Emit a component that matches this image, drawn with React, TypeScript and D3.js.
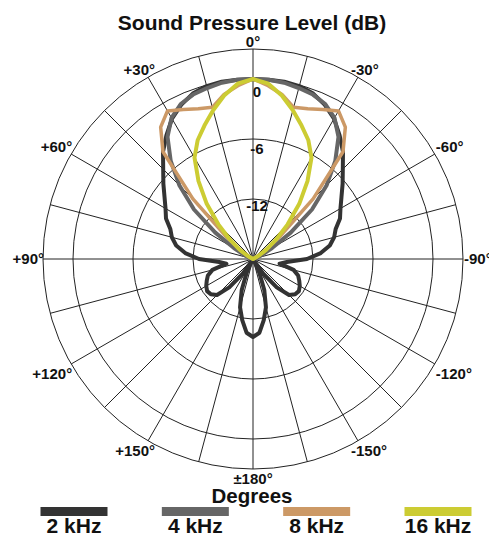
import React from "react";
import * as d3 from "d3";

// ---- data (dB relative to on-axis), one side 0°..180° in 5° steps, mirrored ----
const angles = d3.range(0, 181, 5);

const spl2k = [
  0, 0, 0, -0.1, -0.4, -1.0, -1.8, -2.9, -4.0, -5.3, -6.3, -7.2, -7.9, -8.4, -9.2, -9.6,
  -10.2, -11.2, -12.6, -14.6, -15.3, -13.8, -13.2, -12.9, -12.6, -12.4, -12.5, -12.9,
  -14.3, -16.2, -17.8, -16.5, -14.7, -13.0, -11.8, -10.6, -10.2,
];
const spl4k = [
  0, 0, -0.1, -0.3, -0.5, -0.9, -1.7, -3.1, -5.2, -7.6, -10.3, -13.4, -15.8, -17.0, -17.6,
  -18, -18, -18, -18, -18, -18, -18, -18, -18, -18, -18, -18, -18, -18, -18, -18, -18,
  -18, -18, -18, -18, -18,
];
const spl8k = [
  0, -0.6, -1.3, -2.3, -2.0, -1.5, -0.9, -1.9, -4.0, -9.5, -14.5, -16.5, -17.5, -18, -18,
  -18, -18, -18, -18, -18, -18, -18, -18, -18, -18, -18, -18, -18, -18, -18, -18, -18,
  -18, -18, -18, -18, -18,
];
const spl16k = [
  0, -0.4, -1.4, -2.6, -3.8, -4.9, -6.3, -8.5, -10.8, -13.1, -15.0, -16.4, -17.4, -18, -18,
  -18, -18, -18, -18, -18, -18, -18, -18, -18, -18, -18, -18, -18, -18, -18, -18, -18,
  -18, -18, -18, -18, -18,
];

const seriesNames = ["2 kHz", "4 kHz", "8 kHz", "16 kHz"];
const seriesValues = [spl2k, spl4k, spl8k, spl16k];
const seriesColors = ["#333333", "#666666", "#cc9966", "#cccc33"];
const seriesWidths = [4, 4, 3.5, 4];

const ringValues = [3, 0, -6, -12];
const ringLabelValues = [0, -6, -12];
const ringLabels = ["0", "-6", "-12"];

const angleTicks = [0, 30, 60, 90, 120, 150, 180, -30, -60, -90, -120, -150];
const angleLabels = ["0°", "+30°", "+60°", "+90°", "+120°", "+150°", "±180°", "-30°", "-60°", "-90°", "-120°", "-150°"];

const title = "Sound Pressure Level (dB)";
const axisTitle = "Degrees";

const W = 489;
const H = 535;
const cx = 253;
const cy = 259;
const FONT = "'Liberation Sans', Arial, Helvetica, sans-serif";

export default function App() {
  const r = d3.scaleLinear().domain([-18, 3]).range([0, 210]).clamp(true);
  const outerR = r(3);

  // build closed polar curve, positive angles = left side
  const buildPoints = (vals: number[]) => {
    const pts: { a: number; v: number }[] = [];
    angles.forEach((deg, i) => pts.push({ a: (deg * Math.PI) / 180, v: vals[i] })); // right side (negative labels)
    for (let i = angles.length - 2; i >= 1; i--) {
      pts.push({ a: ((360 - angles[i]) * Math.PI) / 180, v: vals[i] });
    }
    return pts;
  };

  const line = d3
    .lineRadial<{ a: number; v: number }>()
    .angle((d) => d.a)
    .radius((d) => r(d.v))
    .curve(d3.curveLinearClosed);

  const spokes = d3.range(0, 360, 15);
  const legendX = d3.scalePoint<string>().domain(seriesNames).range([74, 438]);

  const rad = (deg: number) => (deg * Math.PI) / 180;

  return (
    <svg
      width={W}
      height={H}
      style={{ position: "fixed", left: 0, top: 0, background: "#fff" }}
      fontFamily={FONT}
    >
      <rect x={0} y={0} width={W} height={H} fill="#fff" />
      <text x={252} y={30} textAnchor="middle" fontSize={21} fontWeight="bold" fill="#111">
        {title}
      </text>

      <g transform={`translate(${cx},${cy})`}>
        {ringValues.map((v) => (
          <circle key={v} r={r(v)} fill="none" stroke="#222" strokeWidth={1} />
        ))}
        {spokes.map((deg) => (
          <line
            key={deg}
            x1={0}
            y1={0}
            x2={outerR * Math.sin(rad(deg))}
            y2={-outerR * Math.cos(rad(deg))}
            stroke="#222"
            strokeWidth={1}
          />
        ))}
        {ringLabelValues.map((v, i) => (
          <text
            key={v}
            x={4}
            y={-0.95 * r(v) + 9}
            textAnchor="middle"
            fontSize={15}
            fontWeight="bold"
            fill="#111"
          >
            {ringLabels[i]}
          </text>
        ))}
        {seriesValues.map((vals, i) => (
          <path
            key={seriesNames[i]}
            d={line(buildPoints(vals)) || ""}
            fill="none"
            stroke={seriesColors[i]}
            strokeWidth={seriesWidths[i]}
            strokeLinejoin="round"
          />
        ))}
        {angleTicks.map((deg, i) => {
          const s = Math.sin(rad(deg));
          const c = Math.cos(rad(deg));
          const px = -outerR * s;
          const py = -outerR * c;
          let anchor: "start" | "middle" | "end" = "middle";
          let x = px;
          if (s > 0.01) {
            anchor = "end";
            x = px + (Math.abs(c) > 0.8 ? 7 : 1);
          } else if (s < -0.01) {
            anchor = "start";
            x = px - (Math.abs(c) > 0.8 ? 7 : -1);
          }
          const y = py + (c > 0.01 ? -7 : c < -0.01 ? 10 : 0);
          return (
            <text
              key={deg}
              x={x}
              y={y}
              dy="0.35em"
              textAnchor={anchor}
              fontSize={15}
              fontWeight="bold"
              fill="#111"
            >
              {angleLabels[i]}
            </text>
          );
        })}
      </g>

      <text x={252} y={503} textAnchor="middle" fontSize={20.5} fontWeight="bold" fill="#111">
        {axisTitle}
      </text>

      {seriesNames.map((name, i) => (
        <g key={name} transform={`translate(${legendX(name)},0)`}>
          <rect x={-33.5} y={507} width={67} height={9} fill={seriesColors[i]} />
          <text x={0} y={533} textAnchor="middle" fontSize={21} fontWeight="bold" fill="#111">
            {name}
          </text>
        </g>
      ))}
    </svg>
  );
}
